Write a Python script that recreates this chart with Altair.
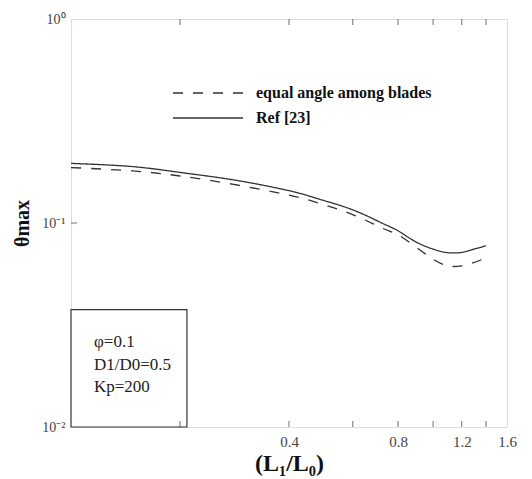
import altair as alt
import pandas as pd

# ---- data ----
x_vals = [0.1, 0.148, 0.2, 0.279, 0.4, 0.484, 0.6, 0.723, 0.8, 0.893, 1.0, 1.08, 1.14, 1.2, 1.28, 1.4]
ref23 = [0.196, 0.189, 0.177, 0.163, 0.144, 0.131, 0.116, 0.0998, 0.0916, 0.0811, 0.0745, 0.0718, 0.0713, 0.0717, 0.0739, 0.0773]
equal_angle = [0.187, 0.180, 0.170, 0.155, 0.137, 0.125, 0.110, 0.0944, 0.0875, 0.0767, 0.0665, 0.0622, 0.0612, 0.0617, 0.0636, 0.0673]
series_names = ["equal angle among blades", "Ref [23]"]
x_tick_vals = [0.2, 0.4, 0.6, 0.8, 1.0, 1.2, 1.4]
x_label_vals = [0.4, 0.8, 1.2, 1.6]
y_tick_vals = [1, 0.1, 0.01]
box_lines = ["φ=0.1", "D1/D0=0.5", "Kp=200"]

rows = []
for name, vals in zip(series_names, [equal_angle, ref23]):
    for x, v in zip(x_vals, vals):
        rows.append({"x": x, "v": v, "series": name})
df = pd.DataFrame(rows)

W, H = 436, 408
SERIF = "Liberation Serif"
INK = "#333333"

xscale = alt.Scale(type="log", domain=[0.1, 1.6], nice=False)
yscale = alt.Scale(type="log", domain=[0.01, 1], nice=False)
dash_scale = alt.Scale(domain=series_names, range=[[10, 10], [1, 0]])

lines = alt.Chart(df).mark_line(color=INK, strokeWidth=1.3, interpolate="natural").encode(
    x=alt.X("x:Q", scale=xscale, axis=alt.Axis(
        values=x_label_vals, format=".1f", ticks=False, domain=False, grid=False,
        labelFont=SERIF, labelFontSize=15, labelColor="#444444", labelPadding=7,
        labelFlush=False, labelOverlap=False,
        title="(L₁/L₀)", titleFont=SERIF, titleFontSize=24, titleFontWeight="bold",
        titleColor="#111111", titlePadding=2)),
    y=alt.Y("v:Q", scale=yscale, axis=alt.Axis(
        values=y_tick_vals, ticks=False, domain=False, grid=False,
        labelExpr="datum.value >= 0.5 ? '10⁰' : (datum.value >= 0.05 ? '10⁻¹' : '10⁻²')",
        labelFont=SERIF, labelFontSize=14, labelColor="#444444", labelPadding=6,
        labelOverlap=False, labelFlush=False,
        title="θmax", titleFont=SERIF, titleFontSize=20, titleFontWeight="bold",
        titleColor="#111111", titlePadding=9)),
    strokeDash=alt.StrokeDash("series:N", scale=dash_scale, legend=None),
    detail="series:N",
)

tick_df = pd.DataFrame({"x": x_tick_vals})
bottom_ticks = alt.Chart(tick_df).mark_tick(orient="vertical", size=6, thickness=1, color=INK).encode(
    x=alt.X("x:Q"), y=alt.value(H - 3))
top_ticks = alt.Chart(tick_df).mark_tick(orient="vertical", size=6, thickness=1, color=INK).encode(
    x=alt.X("x:Q"), y=alt.value(3))
ytick_df = pd.DataFrame({"v": [0.1]})
left_ticks = alt.Chart(ytick_df).mark_tick(orient="horizontal", size=6, thickness=1, color=INK).encode(
    y=alt.Y("v:Q"), x=alt.value(3))

# parameter box in lower-left
box_df = pd.DataFrame({"x": [0.1], "x2": [0.209], "v": [0.01], "v2": [0.0376]})
box = alt.Chart(box_df).mark_rect(fill="white", stroke=INK, strokeWidth=1.2).encode(
    x=alt.X("x:Q"), x2="x2:Q", y=alt.Y("v:Q"), y2="v2:Q")

layers = [lines, box, bottom_ticks, top_ticks, left_ticks]
for i, t in enumerate(box_lines):
    layers.append(alt.Chart(pd.DataFrame({"t": [t]})).mark_text(
        align="left", baseline="middle", font=SERIF, fontSize=17, color="#222222").encode(
        text="t:N", x=alt.value(23), y=alt.value(323 + 22.5 * i)))

# legend
for i, name in enumerate(series_names):
    ldf = pd.DataFrame({"series": [name]})
    layers.append(alt.Chart(ldf).mark_rule(color=INK, strokeWidth=1.3).encode(
        x=alt.value(102), x2=alt.value(172), y=alt.value(74 + 25 * i),
        strokeDash=alt.StrokeDash("series:N", scale=dash_scale, legend=None)))
    layers.append(alt.Chart(ldf).mark_text(
        align="left", baseline="middle", font=SERIF, fontSize=16, fontWeight="bold", color="#111111").encode(
        text="series:N", x=alt.value(185), y=alt.value(74 + 25 * i)))

chart = alt.layer(*layers).properties(
    width=W, height=H,
    autosize=alt.AutoSizeParams(type="none"),
    padding={"left": 63, "top": 11, "right": 17, "bottom": 50},
).configure_view(stroke=INK, strokeWidth=1.3).configure(background="white")

chart.save("out.html", embed_options={"renderer": "svg", "actions": False})
